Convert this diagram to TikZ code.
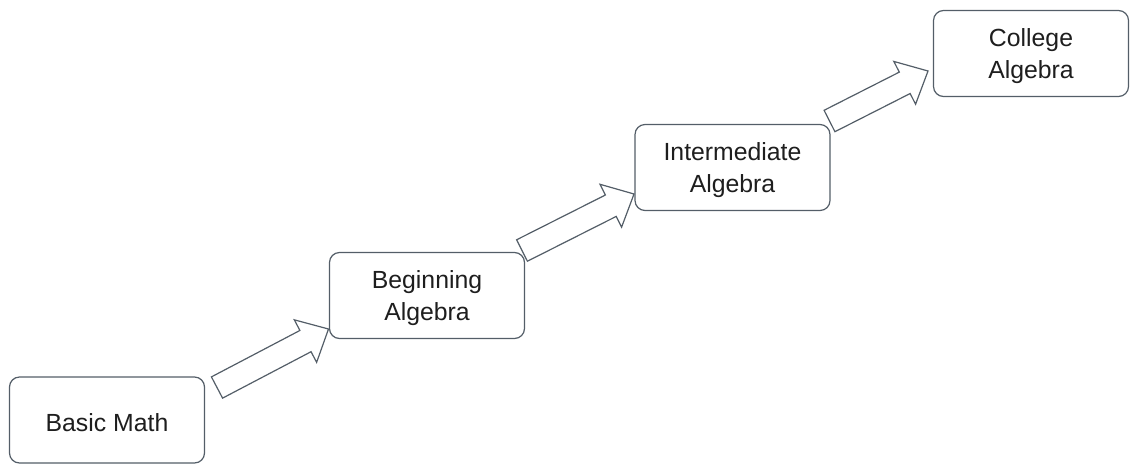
\documentclass[tikz,border=0pt]{standalone}
\usepackage{fontspec}
\setmainfont{Liberation Sans}
\usetikzlibrary{calc}
\definecolor{edge}{RGB}{84,94,104}
\definecolor{ink}{RGB}{30,30,30}
\tikzset{
  box/.style={draw=edge, line width=1.2pt, rounded corners=10pt, fill=white,
    minimum width=195pt, minimum height=86pt, inner sep=0pt},
  txt/.style={align=center, text=ink, inner sep=0pt, yshift=-2.5pt,
    font=\fontsize{24.8}{31.5}\selectfont},
  blockarrow/.style={draw=edge, line width=1.2pt, line join=miter, fill=white}
}
\newcommand{\blockarrow}[2]{%
  \draw[blockarrow] let \p1=($(#2)-(#1)$), \n1={atan2(\y1,\x1)}, \n2={veclen(\x1,\y1)-26pt} in
    ($(#1)+(\n1+90:12pt)$) -- ($(#1)+(\n1:\n2)+(\n1+90:12pt)$) -- ($(#1)+(\n1:\n2)+(\n1+90:24pt)$)
    -- (#2) -- ($(#1)+(\n1:\n2)+(\n1-90:24pt)$) -- ($(#1)+(\n1:\n2)+(\n1-90:12pt)$)
    -- ($(#1)+(\n1-90:12pt)$) -- cycle;}
\begin{document}
\begin{tikzpicture}[x=1pt,y=-1pt]
\useasboundingbox (0,0) rectangle (1131,464);
\node[box, label={[txt]center:Basic Math}] (basic) at (107,420) {};
\node[box, label={[txt]center:Beginning\\Algebra}] (begin) at (427,295.5) {};
\node[box, label={[txt]center:Intermediate\\Algebra}] (inter) at (732.5,167.5) {};
\node[box, label={[txt]center:College\\Algebra}] (college) at (1031,53.5) {};
\coordinate (t1) at (217,387.5);
\coordinate (h1) at (328.5,329);
\coordinate (t2) at (522,250.5);
\coordinate (h2) at (634,194);
\coordinate (t3) at (829.5,121);
\coordinate (h3) at (928,71);
\blockarrow{t1}{h1}
\blockarrow{t2}{h2}
\blockarrow{t3}{h3}
\end{tikzpicture}
\end{document}
